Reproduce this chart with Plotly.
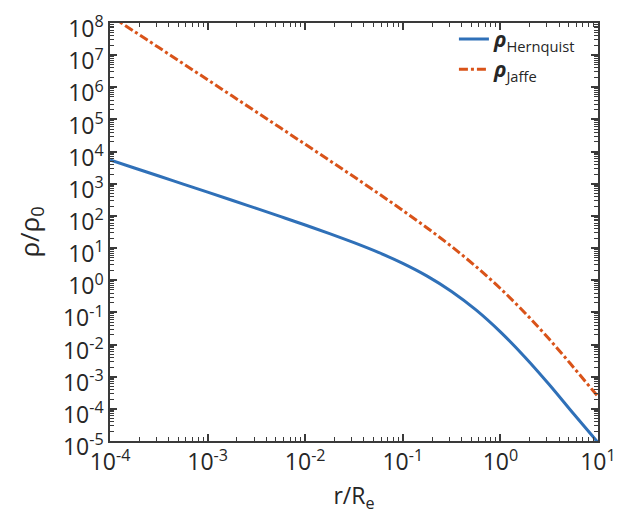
import plotly.graph_objects as go

# radius r/R_e (quarter-decade sampling)
r_vals = [1e-4, 1.778e-4, 3.162e-4, 5.623e-4, 1e-3, 1.778e-3, 3.162e-3, 5.623e-3,
          1e-2, 1.778e-2, 3.162e-2, 5.623e-2, 1e-1, 1.778e-1, 3.162e-1, 5.623e-1,
          1.0, 1.778, 3.162, 5.623, 10.0]

rho_hernquist = [5500, 3090, 1740, 977, 548, 307, 171, 95.0,
                 52.2, 28.2, 14.7, 7.32, 3.34, 1.34, 0.447, 0.119,
                 0.0247, 0.0041, 5.7e-4, 7.0e-5, 9.0e-6]

rho_jaffe = [1.72e8, 5.43e7, 1.72e7, 5.43e6, 1.72e6, 5.42e5, 1.71e5, 5.39e4,
             1.69e4, 5290, 1640, 500, 148, 42.1, 11.2, 2.66,
             0.553, 0.0978, 0.0148, 1.94e-3, 2.4e-4]

x_exps = [-4, -3, -2, -1, 0, 1]
y_exps = list(range(-5, 9))
minor_digits = [2, 3, 4, 5, 6, 7, 8, 9]

x_tickvals = [10.0 ** e for e in x_exps]
x_ticktext = ["10<sup>%d</sup>" % e for e in x_exps]
y_tickvals = [10.0 ** e for e in y_exps]
y_ticktext = ["10<sup>%d</sup>" % e for e in y_exps]
x_minor = [d * 10.0 ** e for e in x_exps[:-1] for d in minor_digits]
y_minor = [d * 10.0 ** e for e in y_exps[:-1] for d in minor_digits]

font_family = "Open Sans, Noto Sans, sans-serif"
txt_color = "#262626"
ax_color = "#3a3a3a"

fig = go.Figure()
fig.add_trace(go.Scatter(x=r_vals, y=rho_hernquist, mode="lines",
                         name="<i><b>ρ</b></i><sub>Hernquist</sub>",
                         line=dict(color="#2F70B8", width=3, shape="spline")))
fig.add_trace(go.Scatter(x=r_vals, y=rho_jaffe, mode="lines",
                         name="<i><b>ρ</b></i><sub>Jaffe</sub>",
                         line=dict(color="#D95319", width=3, dash="dashdot", shape="spline")))

axis_common = dict(type="log", showgrid=False, zeroline=False, showline=True,
                   linecolor=ax_color, linewidth=1.5, mirror="ticks",
                   tickmode="array", automargin=False,
                   ticks="inside", ticklen=7, tickwidth=1.5, tickcolor=ax_color,
                   ticklabelstandoff=0, ticklabeloverflow="allow",
                   tickfont=dict(size=23, color=txt_color, family=font_family))

fig.update_xaxes(range=[-4.0003, 1.0003], tickvals=x_tickvals, ticktext=x_ticktext,
                 minor=dict(tickmode="array", tickvals=x_minor, ticks="inside",
                            ticklen=4, tickwidth=1, tickcolor=ax_color, showgrid=False),
                 title=dict(text="r/R<sub>e</sub>", font=dict(size=23, color=txt_color,
                                                             family=font_family), standoff=12),
                 **axis_common)
fig.update_yaxes(range=[-5.0003, 8.0003], tickvals=y_tickvals, ticktext=y_ticktext,
                 ticklabelshift=6,
                 minor=dict(tickmode="array", tickvals=y_minor, ticks="inside",
                            ticklen=4, tickwidth=1, tickcolor=ax_color, showgrid=False),
                 title=dict(text="ρ/ρ<sub>0</sub>",
                            font=dict(size=26, color=txt_color, family=font_family), standoff=16),
                 **axis_common)

fig.update_layout(
    width=624, height=521,
    margin=dict(l=102, r=34, t=11, b=88),
    paper_bgcolor="white", plot_bgcolor="white",
    font=dict(family=font_family, color=txt_color),
    showlegend=True,
    legend=dict(x=0.965, y=1.01, xanchor="right", yanchor="top",
                bgcolor="rgba(255,255,255,0)", borderwidth=0,
                font=dict(size=21, color=txt_color, family=font_family),
                itemwidth=30, tracegroupgap=8),
)

fig.write_html("out.html")
